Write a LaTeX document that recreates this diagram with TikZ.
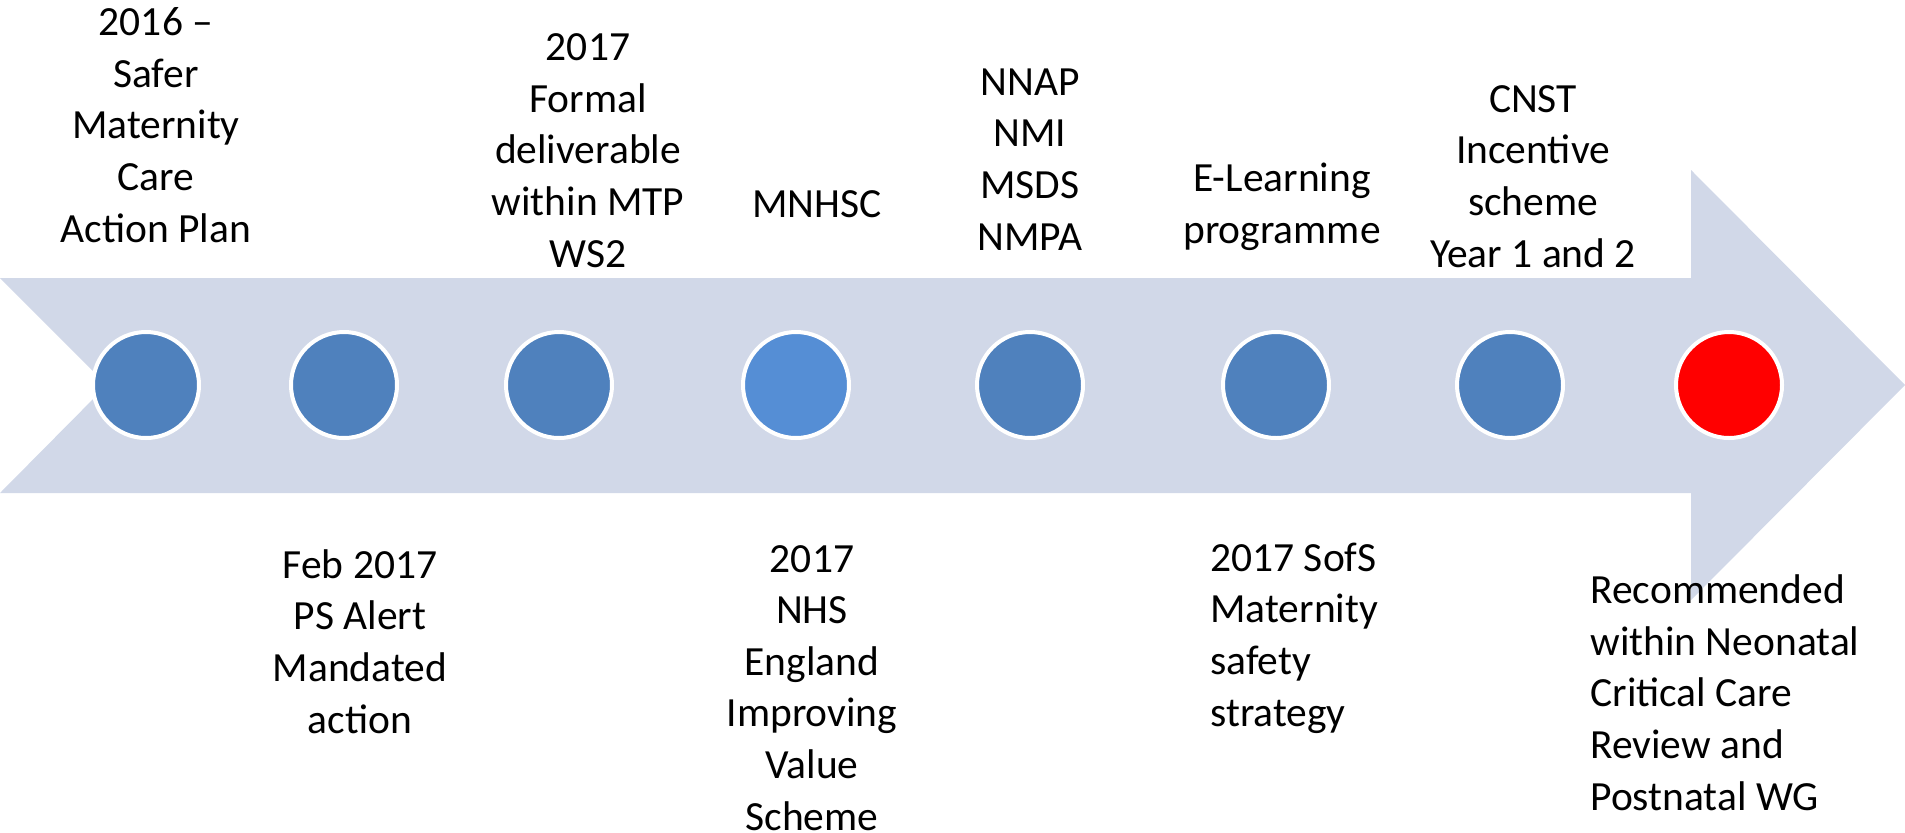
\documentclass[tikz,border=0pt]{standalone}
\usepackage{fontspec}
\setmainfont{Carlito}
\definecolor{band}{HTML}{D1D8E8}
\definecolor{dotblue}{HTML}{4F81BD}
\definecolor{dotlight}{HTML}{558ED5}
\tikzstyle{every picture} = [x=0.5pt, y=-0.5pt]
\tikzstyle{dot} = [circle, inner sep=0pt, minimum size=53pt, draw=white, line width=2pt, fill=dotblue]
% base anchor sits on the last line of the text
\tikzstyle{note} = [inner sep=0pt, align=center, anchor=base, font=\fontsize{20.75}{25.8}\selectfont]

\begin{document}
\begin{tikzpicture}
	\useasboundingbox (0,0) rectangle (1905,832);
	% the big arrow
	\fill[band] (0,278) -- (1691,278) -- (1691,170) -- (1905,385) -- (1691,600) -- (1691,493) -- (0,493) -- (107,385) -- cycle;
	% milestones on the arrow
	\node (dot 1) [dot] at (146,385) {};
	\node (dot 2) [dot] at (344,385) {};
	\node (dot 3) [dot] at (559,385) {};
	\node (dot 4) [dot, fill=dotlight] at (796,385) {};
	\node (dot 5) [dot] at (1030,385) {};
	\node (dot 6) [dot] at (1276,385) {};
	\node (dot 7) [dot] at (1510,385) {};
	\node (dot 8) [dot, fill=red] at (1729,385) {};
	% above the arrow
	\node (note 1) [note] at (156,242) {2016 –\\Safer\\Maternity\\Care\\Action Plan};
	\node (note 2) [note] at (588,267) {2017\\Formal\\deliverable\\within MTP\\WS2};
	\node (note 3) [note] at (817,217) {MNHSC};
	\node (note 4) [note] at (1030,250) {NNAP\\NMI\\MSDS\\NMPA};
	\node (note 5) [note] at (1282,243) {E-Learning\\programme};
	\node (note 6) [note] at (1533,267) {CNST\\Incentive\\scheme\\Year 1 and 2};
	% below the arrow
	\node (note 7) [note] at (360,733) {Feb 2017\\PS Alert\\Mandated\\action};
	\node (note 8) [note] at (812,830) {2017\\NHS\\England\\Improving\\Value\\Scheme};
	\node (note 9) [note, align=left, anchor=base west] at (1210,726) {2017 SofS\\Maternity\\safety\\strategy};
	\node (note 10) [note, align=left, anchor=base west] at (1590,810) {Recommended\\within Neonatal\\Critical Care\\Review and\\Postnatal WG};
\end{tikzpicture}
\end{document}
